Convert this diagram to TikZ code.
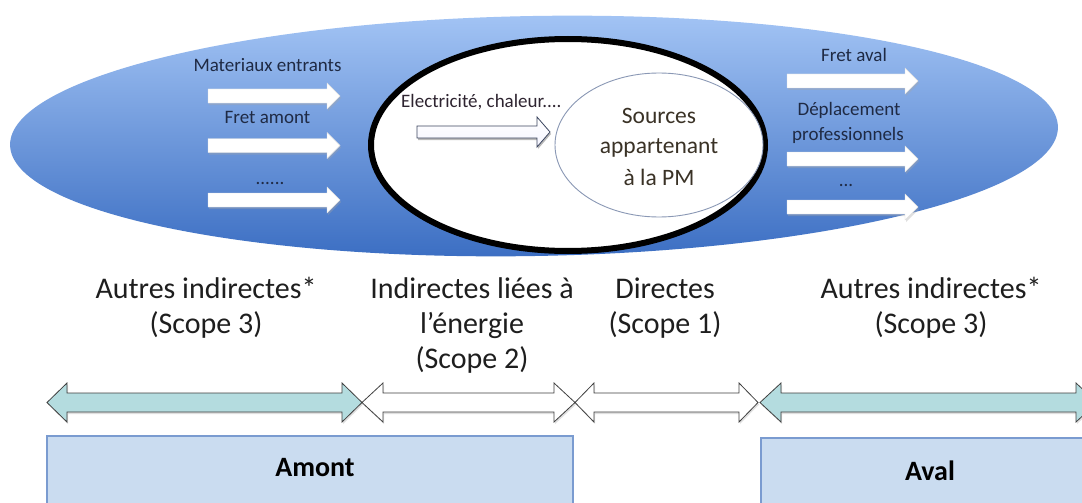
\documentclass[tikz,border=0pt]{standalone}
\usepackage{fontspec}
\setmainfont{Carlito}
\definecolor{bluetop}{HTML}{A4C5F5}
\definecolor{bluebot}{HTML}{3A6DC2}
\definecolor{navytxt}{HTML}{1F2A44}
\definecolor{eltxt}{HTML}{2E2430}
\definecolor{srctxt}{HTML}{3A3226}
\definecolor{labtxt}{HTML}{1E1E1E}
\definecolor{tealfill}{HTML}{B4DCDF}
\definecolor{boxfill}{HTML}{CADCF0}
\definecolor{boxline}{HTML}{7A9BD0}
\definecolor{inneroutline}{HTML}{8A98B5}
\definecolor{arrline}{HTML}{3C4660}
% right-pointing block arrow: x1, x2, yc, body half height, head half height, head length, style
\newcommand\blkR[7]{\path[#7] (#1,#3-#4) -- (#2-#6,#3-#4) -- (#2-#6,#3-#5) -- (#2,#3) -- (#2-#6,#3+#5) -- (#2-#6,#3+#4) -- (#1,#3+#4) -- cycle;}
% double block arrow
\newcommand\blkD[7]{\path[#7] (#1,#3) -- (#1+#6,#3-#5) -- (#1+#6,#3-#4) -- (#2-#6,#3-#4) -- (#2-#6,#3-#5) -- (#2,#3) -- (#2-#6,#3+#5) -- (#2-#6,#3+#4) -- (#1+#6,#3+#4) -- (#1+#6,#3+#5) -- cycle;}
\begin{document}
\begin{tikzpicture}[x=1pt,y=-1pt,
  smalltxt/.style={font=\fontsize{19}{23}\selectfont, text=navytxt, anchor=base, inner sep=0pt},
  srcstyle/.style={font=\fontsize{23.5}{28}\selectfont, text=srctxt, anchor=base, inner sep=0pt},
  labstyle/.style={font=\fontsize{30}{35}\selectfont, text=labtxt, anchor=base, inner sep=0pt},
  boxlab/.style={font=\bfseries\fontsize{28}{32}\selectfont, text=black, anchor=base, inner sep=0pt},
  whitearr/.style={fill=white, draw=gray!25, line width=0.4pt},
  shadowarr/.style={fill=black!35},
  tealarr/.style={fill=tealfill, draw=black!75, line width=0.8pt},
  openarr/.style={fill=white, draw=black!75, line width=0.8pt},
  regionbox/.style={fill=boxfill, draw=boxline, line width=1.2pt}]
\useasboundingbox (0,0) rectangle (1082,503);
\fill[white] (0,0) rectangle (1082,503);
\clip (0,0) rectangle (1082,503);

% big blue ellipse
\shade[top color=bluetop, bottom color=bluebot, rotate around={1:(534,136)}]
  (534,136) ellipse [x radius=524pt, y radius=120pt];

% black ellipse
\draw[line width=6pt, fill=white] (568,145) ellipse [x radius=197pt, y radius=106pt];
% inner ellipse
\draw[draw=inneroutline, line width=0.9pt, fill=white] (659,145) ellipse [x radius=104pt, y radius=72pt];

% left white arrows
\blkR{209}{341}{98}{7}{13}{13}{shadowarr, opacity=0.35}
\blkR{208}{340}{96}{7}{13}{13}{whitearr}
\blkR{209}{341}{147.5}{7}{13}{13}{shadowarr, opacity=0.35}
\blkR{208}{340}{145.5}{7}{13}{13}{whitearr}
\blkR{209}{341}{202}{7}{13}{13}{shadowarr, opacity=0.35}
\blkR{208}{340}{200}{7}{13}{13}{whitearr}

% right white arrows
\blkR{788}{919}{83}{7}{13}{13}{shadowarr, opacity=0.35}
\blkR{787}{918}{81}{7}{13}{13}{whitearr}
\blkR{788}{919}{161}{7}{13}{13}{shadowarr, opacity=0.35}
\blkR{787}{918}{159}{7}{13}{13}{whitearr}
\blkR{788}{919}{209}{7}{13}{13}{shadowarr, opacity=0.35}
\blkR{787}{918}{207}{7}{13}{13}{whitearr}

% electricity arrow
\blkR{418}{551}{134}{6}{15}{13}{fill=gray!55}
\blkR{417}{550}{132}{6}{15}{13}{top color=white, bottom color=blue!4, draw=arrline, line width=0.8pt}

% texts inside blue ellipse
\node[smalltxt] (mat) at (267.5,71) {Materiaux entrants};
\node[smalltxt] (fam) at (267.5,123) {Fret amont};
\node[smalltxt] (dotl) at (270,184) {......};
\node[smalltxt] (fav) at (854,62) {Fret aval};
\node[smalltxt] (dep1) at (849,115) {Déplacement};
\node[smalltxt] (dep2) at (848,140) {professionnels};
\node[smalltxt] (dotr) at (846,186) {...};
\node[smalltxt, text=eltxt, anchor=base west] (elec) at (401,107) {Electricité, chaleur....};

\node[srcstyle] (src1) at (659,123) {Sources};
\node[srcstyle] (src2) at (659,153) {appartenant};
\node[srcstyle] (src3) at (659,185) {à la PM};

% scope labels
\node[labstyle] (ai1) at (206,298) {Autres indirectes*};
\node[labstyle] (ai2) at (206,333) {(Scope 3)};
\node[labstyle] (il1) at (472,298) {Indirectes liées à};
\node[labstyle] (il2) at (472,333) {l’énergie};
\node[labstyle] (il3) at (472,368) {(Scope 2)};
\node[labstyle] (di1) at (665,298) {Directes};
\node[labstyle] (di2) at (665,333) {(Scope 1)};
\node[labstyle] (ar1) at (931,298) {Autres indirectes*};
\node[labstyle] (ar2) at (931,333) {(Scope 3)};

% bottom double arrows
\blkD{48}{363}{404.5}{9.5}{19.5}{20}{shadowarr, opacity=0.35}
\blkD{47}{362}{402.5}{9.5}{19.5}{20}{tealarr}
\blkD{363}{576}{404.5}{9.5}{19.5}{21}{shadowarr, opacity=0.35}
\blkD{362}{575}{402.5}{9.5}{19.5}{21}{openarr}
\blkD{576}{759}{404.5}{9.5}{19.5}{19}{shadowarr, opacity=0.35}
\blkD{575}{758}{402.5}{9.5}{19.5}{19}{openarr}
\blkD{761}{1098}{404.5}{9.5}{19.5}{21}{shadowarr, opacity=0.35}
\blkD{760}{1097}{402.5}{9.5}{19.5}{21}{tealarr}

% region boxes
\draw[regionbox] (47,436) rectangle (573,515);
\draw[regionbox] (761,438) rectangle (1095,515);
\node[boxlab] (amont) at (315,476) {Amont};
\node[boxlab] (aval) at (930,480) {Aval};
\end{tikzpicture}
\end{document}
